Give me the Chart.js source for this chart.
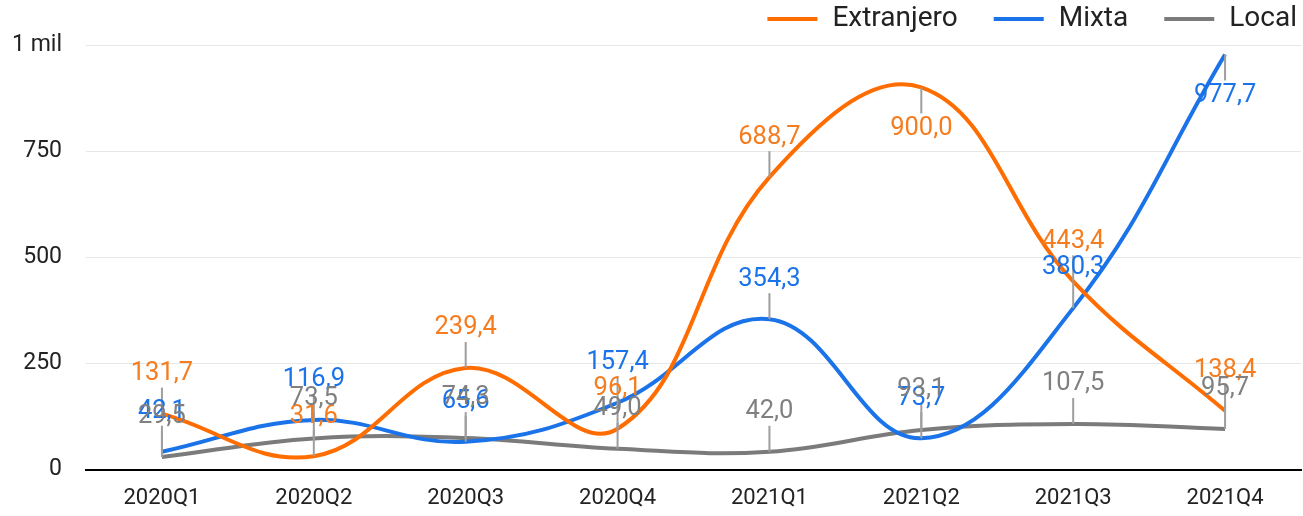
<!DOCTYPE html>
<html>
<head>
<meta charset="utf-8">
<script src="https://cdn.jsdelivr.net/npm/chart.js@4"></script>
<style>
  html, body { margin: 0; padding: 0; background: #fff; }
  #wrap { width: 1303px; height: 516px; }
</style>
</head>
<body>
<div id="wrap"><canvas id="chart"></canvas></div>
<script>
// quarters on the x axis
const quarters = ["2020Q1", "2020Q2", "2020Q3", "2020Q4", "2021Q1", "2021Q2", "2021Q3", "2021Q4"];

// series values
const extranjero = [131.7, 31.6, 239.4, 96.1, 688.7, 900.0, 443.4, 138.4];
const mixta = [42.1, 116.9, 65.6, 157.4, 354.3, 73.7, 380.3, 977.7];
const local = [29.5, 73.5, 74.3, 49.0, 42.0, 93.1, 107.5, 95.7];

const yTicks = [0, 250, 500, 750, 1000];

const ORANGE = "#ff6d01";
const BLUE = "#1a73e8";
const GREY = "#7b7b7b";

// labels above each point with a short grey leader line
const pointLabels = {
  id: "pointLabels",
  afterDatasetsDraw(chart) {
    const ctx = chart.ctx;
    const top = chart.chartArea.top;
    ctx.save();
    // leader lines first
    chart.data.datasets.forEach((ds, i) => {
      chart.getDatasetMeta(i).data.forEach(pt => {
        const up = pt.y - 40 > top + 15;
        ctx.strokeStyle = "#9e9e9e";
        ctx.lineWidth = 2;
        ctx.beginPath();
        ctx.moveTo(pt.x, pt.y);
        ctx.lineTo(pt.x, up ? pt.y - 26 : pt.y + 26);
        ctx.stroke();
      });
    });
    ctx.font = "25.5px Roboto";
    ctx.textAlign = "center";
    ctx.textBaseline = "middle";
    chart.data.datasets.forEach((ds, i) => {
      ctx.fillStyle = ds.labelColor;
      chart.getDatasetMeta(i).data.forEach((pt, j) => {
        const up = pt.y - 40 > top + 15;
        const txt = ds.data[j].toFixed(1).replace(".", ",");
        ctx.fillText(txt, pt.x, up ? pt.y - 40 : pt.y + 41);
      });
    });
    ctx.restore();
  }
};

// legend top right: line marker + name, laid out from the right
const topLegend = {
  id: "topLegend",
  afterDraw(chart) {
    const ctx = chart.ctx;
    const y = 19;
    ctx.save();
    ctx.font = "28px Roboto";
    ctx.textBaseline = "middle";
    ctx.textAlign = "left";
    let x = 1297;
    const items = chart.data.datasets.slice().reverse();
    items.forEach(ds => {
      const w = ctx.measureText(ds.label).width;
      const tx = x - w;
      ctx.fillStyle = "#222";
      ctx.fillText(ds.label, tx, y);
      ctx.strokeStyle = ds.borderColor;
      ctx.lineWidth = 4;
      ctx.beginPath();
      ctx.moveTo(tx - 15 - 50, y);
      ctx.lineTo(tx - 15, y);
      ctx.stroke();
      x = tx - 15 - 50 - 36;
    });
    ctx.restore();
  }
};

new Chart(document.getElementById("chart"), {
  type: "line",
  data: {
    labels: quarters,
    datasets: [
      { label: "Extranjero", data: extranjero, borderColor: ORANGE, backgroundColor: ORANGE, labelColor: "#f57c1f" },
      { label: "Mixta", data: mixta, borderColor: BLUE, backgroundColor: BLUE, labelColor: "#1a73e8" },
      { label: "Local", data: local, borderColor: GREY, backgroundColor: GREY, labelColor: "#808080" }
    ].map(d => Object.assign(d, { borderWidth: 4, pointRadius: 0, tension: 0.4, fill: false }))
  },
  options: {
    responsive: true,
    maintainAspectRatio: false,
    animation: false,
    layout: { padding: { left: 0, right: 2, top: 45, bottom: -4 } },
    plugins: {
      tooltip: { enabled: false },
      legend: { display: false }
    },
    scales: {
      x: {
        offset: true,
        grid: { display: false },
        border: { color: "#000", width: 2 },
        ticks: { color: "#222", font: { family: "Roboto", size: 22 }, padding: 8 }
      },
      y: {
        min: 0,
        max: 1000,
        afterBuildTicks: axis => { axis.ticks = yTicks.map(v => ({ value: v })); },
        afterFit: axis => { axis.width = 86; },
        grid: { color: "#e6e6e6", lineWidth: 1, drawTicks: false },
        border: { display: false },
        ticks: {
          color: "#222",
          font: { family: "Roboto", size: 23 },
          padding: 24,
          callback: v => v === 1000 ? "1 mil" : v
        }
      }
    }
  },
  plugins: [pointLabels, topLegend]
});
</script>
</body>
</html>
